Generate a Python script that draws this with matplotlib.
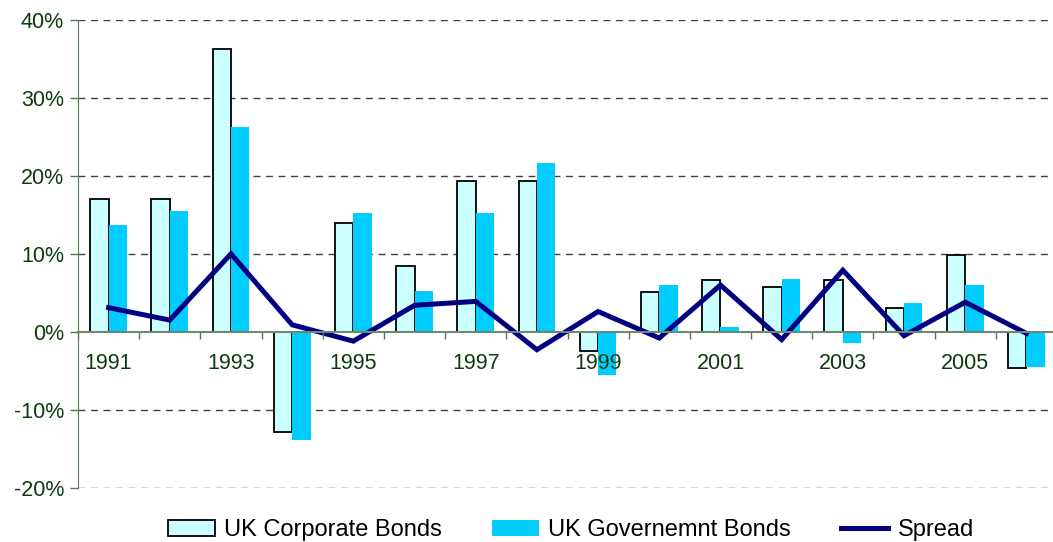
import matplotlib
matplotlib.use("Agg")
import matplotlib.pyplot as plt
import numpy as np

years = [1991, 1992, 1993, 1994, 1995, 1996, 1997, 1998, 1999, 2000,
         2001, 2002, 2003, 2004, 2005, 2006]
corporate = [17.0, 17.0, 36.3, -12.9, 13.9, 8.5, 19.3, 19.3, -2.5, 5.1,
             6.7, 5.7, 6.7, 3.1, 9.8, -4.6]
government = [13.7, 15.5, 26.3, -13.9, 15.3, 5.2, 15.3, 21.7, -5.5, 6.0,
              0.6, 6.8, -1.4, 3.7, 6.0, -4.5]
spread = [3.1, 1.5, 10.0, 0.9, -1.2, 3.4, 3.9, -2.3, 2.6, -0.8,
          6.0, -1.0, 7.9, -0.5, 3.8, -0.2]
yticks = [-20, -10, 0, 10, 20, 30, 40]

plt.rcParams['font.family'] = ['Liberation Sans', 'DejaVu Sans']

fig = plt.figure(figsize=(10.53, 5.42), dpi=100)
ax = fig.add_axes([78/1053, 1 - 487.7/542, 979/1053, 467.7/542])

x = np.arange(len(years))
w = 0.30
b1 = ax.bar(x - w/2, corporate, width=w, color='#CCFFFF', edgecolor='black',
            linewidth=1.3, label='UK Corporate Bonds', zorder=3)
b2 = ax.bar(x + w/2, government, width=w, color='#00CCFF', edgecolor='none',
            label='UK Governemnt Bonds', zorder=3)
l1, = ax.plot(x, spread, color='#000080', linewidth=3.6, label='Spread', zorder=4,
              solid_joinstyle='miter')

ax.set_xlim(-0.5, len(years) - 0.5)
ax.set_ylim(-20, 40)

for v in yticks:
    if v != 0:
        ax.axhline(v, color='#404040', linewidth=1.0, linestyle=(0, (5, 4)), zorder=1)

ax.set_yticks(yticks)
ax.set_yticklabels([f'{v}%' for v in yticks], color='#0B3D0B', fontsize=15.5)
ax.tick_params(axis='y', direction='out', length=6, width=1, color='#5A755A', pad=4)

ax.spines['top'].set_visible(False)
ax.spines['right'].set_visible(False)
ax.spines['left'].set_color('#5A755A')
ax.spines['bottom'].set_position(('data', 0))
ax.spines['bottom'].set_color('#6E8A6E')
ax.spines['bottom'].set_linewidth(1.5)
ax.spines['bottom'].set_zorder(5)

ax.set_xticks(np.arange(-0.5, len(years), 1.0))
ax.set_xticklabels([])
ax.tick_params(axis='x', which='major', direction='out', length=5, width=1, color='#5A755A')
ax.set_xticks(x, minor=True)
ax.set_xticklabels([str(y) if i % 2 == 0 else '' for i, y in enumerate(years)],
                   minor=True, color='#0B3D0B', fontsize=15.5)
ax.tick_params(axis='x', which='minor', length=0, pad=15)
ax.xaxis.set_zorder(6)

leg = fig.legend(handles=[b1, b2, l1], loc='center', bbox_to_anchor=(0.542, 0.022),
                 ncol=3, frameon=False, fontsize=17, handlelength=2.0,
                 handleheight=0.65, columnspacing=2.1, handletextpad=0.4)

fig.savefig('out.png', dpi=100)
